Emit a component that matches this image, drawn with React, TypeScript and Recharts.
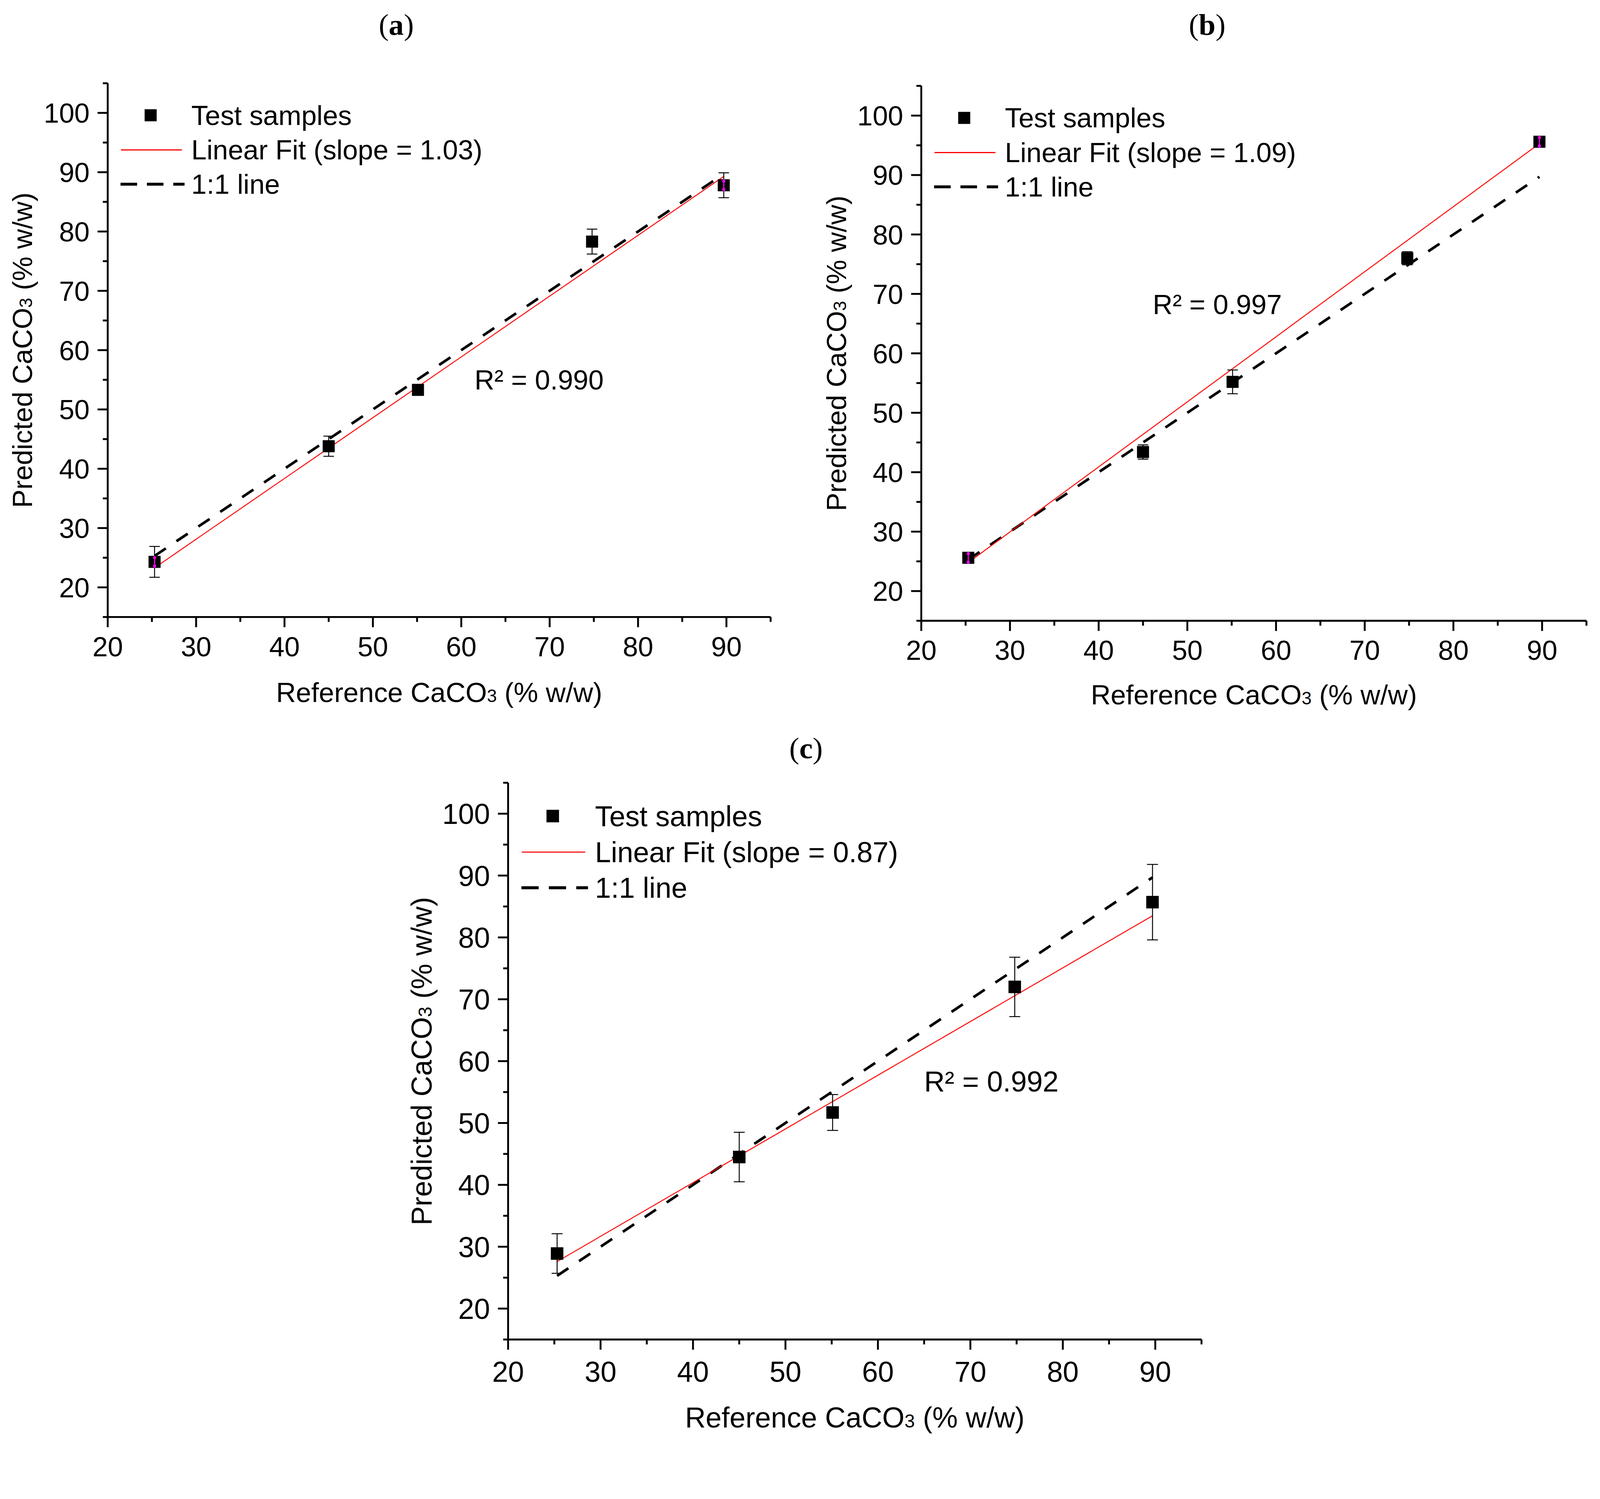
import React from 'react';
import { ComposedChart, Scatter, Line, XAxis, YAxis, ErrorBar, Legend, ReferenceDot } from 'recharts';

const FONT = '"Liberation Sans", Arial, Helvetica, sans-serif';
const SERIF = '"Liberation Serif", "Times New Roman", serif';

// reference CaCO3 of the test samples (same for the three panels)
const refValues = [25.3, 45.0, 55.1, 74.8, 89.7];

// (a)
const predictedA = [24.3, 43.8, 53.3, 78.3, 87.8];
const errorA = [2.6, 1.7, 0.8, 2.1, 2.1];
const magentaA = [true, false, false, false, true];
const fitA = [[25.3, 23.3], [89.7, 89.3]];

// (b)
const predictedB = [25.6, 43.4, 55.2, 76.0, 95.6];
const errorB = [0.8, 1.2, 2.0, 1.1, 0.7];
const magentaB = [true, false, false, false, true];
const fitB = [[25.3, 24.8], [89.7, 95.3]];

// (c)
const predictedC = [28.9, 44.5, 51.7, 72.0, 85.7];
const errorC = [3.2, 4.0, 2.9, 4.8, 6.1];
const magentaC = [false, false, false, false, false];
const fitC = [[25.3, 27.6], [89.7, 83.5]];

const oneToOne = [[25.3, 25.3], [89.7, 89.7]];

const xTicks = [20, 25, 30, 35, 40, 45, 50, 55, 60, 65, 70, 75, 80, 85, 90, 95];
const yTicks = [15, 20, 25, 30, 35, 40, 45, 50, 55, 60, 65, 70, 75, 80, 85, 90, 95, 100, 105];

const panelNames = ['a', 'b', 'c'];
const slopes = ['1.03', '1.09', '0.87'];
const r2Texts = ['R² = 0.990', 'R² = 0.997', 'R² = 0.992'];
const r2Pos = [[61.5, 55.0], [46.1, 68.2], [65.0, 56.7]];

const panels = [
  { left: 0, top: 0, width: 2150, height: 1950, margin: { top: 221, right: 104, bottom: 0, left: 0 }, yW: 286, xH: 312, fs: 73, s: 1, tickLab: 104, xTitle: 226, yTitleX: 60, titleX: 1052, titleY: 25 },
  { left: 2160, top: 0, width: 2088, height: 1950, margin: { top: 228, right: 36, bottom: 0, left: 0 }, yW: 286, xH: 302, fs: 73, s: 1, tickLab: 104, xTitle: 222, yTitleX: 61, titleX: 3205, titleY: 25 },
  { left: 1060, top: 1950, width: 2200, height: 1887, margin: { top: 128, right: 70, bottom: 0, left: 0 }, yW: 289, xH: 281, fs: 76, s: 1.04, tickLab: 112, xTitle: 234, yTitleX: 59, titleX: 2140, titleY: 1946 },
];

const series = [
  { pred: predictedA, err: errorA, mag: magentaA, fit: fitA },
  { pred: predictedB, err: errorB, mag: magentaB, fit: fitB },
  { pred: predictedC, err: errorC, mag: magentaC, fit: fitC },
];

const toPoints = (pairs: number[][]) => pairs.map(([x, y]) => ({ x, y }));

function makeTick(side: string, fs: number, labOffset: number) {
  return (props: any) => {
    const { x, y, payload } = props;
    const v = payload.value;
    const major = v % 10 === 0;
    const len = major ? 27 : 13;
    const line = { stroke: '#000', strokeWidth: 5 };
    if (side === 'bottom') {
      const show = major && v >= 20 && v <= 90;
      return (
        <g>
          <line x1={x} y1={y} x2={x} y2={y + len} {...line} />
          {show && (
            <text x={x} y={y + labOffset} textAnchor="middle" fontSize={fs} fontFamily={FONT} fill="#000">{v}</text>
          )}
        </g>
      );
    }
    if (side === 'top') return <line x1={x} y1={y} x2={x} y2={y + len} {...line} />;
    if (side === 'left') {
      const show = major && v >= 20 && v <= 100;
      return (
        <g>
          <line x1={x - len} y1={y} x2={x} y2={y} {...line} />
          {show && (
            <text x={x - 48} y={y + fs * 0.36} textAnchor="end" fontSize={fs} fontFamily={FONT} fill="#000">{v}</text>
          )}
        </g>
      );
    }
    return <line x1={x - len} y1={y} x2={x} y2={y} {...line} />;
  };
}

function SquareShape(props: any) {
  const { cx, cy, payload, size } = props;
  if (cx == null || cy == null) return null;
  const h = size / 2;
  return (
    <g>
      <rect x={cx - h} y={cy - h} width={size} height={size} fill="#000" />
      {payload.mag && (
        <g>
          <line x1={cx} y1={cy - h} x2={cx} y2={cy + h} stroke="#ff00ff" strokeWidth={3} />
          <circle cx={cx} cy={cy - 11} r={4} fill="#ff00ff" />
          <circle cx={cx} cy={cy + 11} r={4} fill="#ff00ff" />
        </g>
      )}
    </g>
  );
}

function LegendBox({ slope, s, fs }: { slope: string; s: number; fs: number }) {
  const r1 = 85 * s, r2 = 177 * s, r3 = 268 * s;
  const tx = 222 * s;
  const sq = 32 * s;
  const off = fs * 0.35;
  return (
    <svg width={1100 * s} height={320 * s} style={{ display: 'block', overflow: 'visible' }}>
      <rect x={114 * s - sq / 2} y={r1 - sq / 2} width={sq} height={sq} fill="#000" />
      <text x={tx} y={r1 + off} fontSize={fs} fontFamily={FONT} fill="#000">Test samples</text>
      <line x1={35 * s} y1={r2} x2={197 * s} y2={r2} stroke="#ff0000" strokeWidth={3} />
      <text x={tx} y={r2 + off} fontSize={fs} fontFamily={FONT} fill="#000">{`Linear Fit (slope = ${slope})`}</text>
      <line x1={34 * s} y1={r3} x2={204 * s} y2={r3} stroke="#000" strokeWidth={8} strokeDasharray={`${44 * s} ${26 * s}`} />
      <text x={tx} y={r3 + off} fontSize={fs} fontFamily={FONT} fill="#000">1:1 line</text>
    </svg>
  );
}

function Panel({ idx }: { idx: number }) {
  const cfg = panels[idx];
  const ser = series[idx];
  const pts = refValues.map((x, i) => ({ x, y: ser.pred[i], err: ser.err[i], mag: ser.mag[i] }));
  const fs = cfg.fs;
  const plotLeft = cfg.margin.left + cfg.yW;
  const plotTop = cfg.margin.top;

  const xTitle = (props: any) => {
    const vb = props.viewBox;
    return (
      <text x={vb.x + vb.width / 2} y={vb.y + cfg.xTitle} textAnchor="middle" fontSize={fs} fontFamily={FONT} fill="#000">
        <tspan>Reference CaCO</tspan>
        <tspan fontSize={fs * 0.65}>3</tspan>
        <tspan> (% w/w)</tspan>
      </text>
    );
  };
  const yTitle = (props: any) => {
    const vb = props.viewBox;
    const cx = vb.x + cfg.yTitleX;
    const cy = vb.y + vb.height / 2;
    return (
      <text x={cx} y={cy} dy={fs * 0.35} transform={`rotate(-90 ${cx} ${cy})`} textAnchor="middle" fontSize={fs} fontFamily={FONT} fill="#000">
        <tspan>Predicted CaCO</tspan>
        <tspan fontSize={fs * 0.65}>3</tspan>
        <tspan> (% w/w)</tspan>
      </text>
    );
  };
  const r2Label = (props: any) => {
    const vb = props.viewBox;
    return (
      <text x={vb.x} y={vb.y + fs * 0.35} fontSize={fs} fontFamily={FONT} fill="#000">{r2Texts[idx]}</text>
    );
  };

  const axisLine = { stroke: '#000', strokeWidth: 5 };

  return (
    <div style={{ position: 'absolute', left: cfg.left, top: cfg.top, width: cfg.width, height: cfg.height }}>
      <ComposedChart width={cfg.width} height={cfg.height} margin={cfg.margin}>
        <XAxis
          xAxisId={0}
          type="number"
          dataKey="x"
          domain={[20, 95]}
          ticks={xTicks}
          interval={0}
          allowDataOverflow
          height={cfg.xH}
          tickSize={0}
          tickMargin={0}
          tickLine={false}
          axisLine={axisLine}
          tick={makeTick('bottom', fs, cfg.tickLab)}
          label={xTitle}
        />
        <XAxis
          xAxisId="top"
          orientation="top"
          type="number"
          dataKey="x"
          domain={[20, 95]}
          ticks={xTicks}
          interval={0}
          allowDataOverflow
          height={0}
          tickSize={0}
          tickMargin={0}
          tickLine={false}
          axisLine={axisLine}
          tick={makeTick('top', fs, 0)}
        />
        <YAxis
          yAxisId={0}
          type="number"
          dataKey="y"
          domain={[15, 105]}
          ticks={yTicks}
          interval={0}
          allowDataOverflow
          width={cfg.yW}
          tickSize={0}
          tickMargin={0}
          tickLine={false}
          axisLine={axisLine}
          tick={makeTick('left', fs, 0)}
          label={yTitle}
        />
        <YAxis
          yAxisId="right"
          orientation="right"
          type="number"
          dataKey="y"
          domain={[15, 105]}
          ticks={yTicks}
          interval={0}
          allowDataOverflow
          width={0}
          tickSize={0}
          tickMargin={0}
          tickLine={false}
          axisLine={axisLine}
          tick={makeTick('right', fs, 0)}
        />
        <Line
          data={toPoints(oneToOne)}
          dataKey="y"
          type="linear"
          stroke="#000"
          strokeWidth={7}
          strokeDasharray="36 34"
          dot={false}
          activeDot={false}
          isAnimationActive={false}
        />
        <Line
          data={toPoints(ser.fit)}
          dataKey="y"
          type="linear"
          stroke="#ff0000"
          strokeWidth={2.5}
          dot={false}
          activeDot={false}
          isAnimationActive={false}
        />
        <Scatter
          data={pts}
          dataKey="y"
          shape={(p: any) => <SquareShape {...p} size={32 * cfg.s} />}
          isAnimationActive={false}
        >
          <ErrorBar dataKey="err" direction="y" width={14 * cfg.s} stroke="#000" strokeWidth={2.5} isAnimationActive={false} />
        </Scatter>
        <ReferenceDot x={r2Pos[idx][0]} y={r2Pos[idx][1]} r={0} fill="none" stroke="none" label={r2Label} />
        <Legend
          layout="vertical"
          align="center"
          verticalAlign="middle"
          wrapperStyle={{ left: plotLeft, top: plotTop, width: 1100 * cfg.s, height: 320 * cfg.s }}
          content={() => <LegendBox slope={slopes[idx]} s={cfg.s} fs={fs} />}
        />
      </ComposedChart>
      <div
        style={{
          position: 'absolute',
          left: cfg.titleX - cfg.left,
          top: cfg.titleY - cfg.top,
          transform: 'translateX(-50%)',
          fontFamily: SERIF,
          fontSize: 80,
          lineHeight: '80px',
          whiteSpace: 'nowrap',
          color: '#000',
        }}
      >
        (<b>{panelNames[idx]}</b>)
      </div>
    </div>
  );
}

export default function App() {
  // the layout is written in picture pixels; fit it to the real viewport width
  const k = typeof window !== 'undefined' && window.innerWidth > 0 ? Math.min(1, window.innerWidth / 4248) : 1;
  return (
    <div
      style={{
        position: 'absolute',
        left: 0,
        top: 0,
        width: 4248,
        height: 3837,
        background: '#fff',
        transform: `scale(${k})`,
        transformOrigin: '0 0',
      }}
    >
      <Panel idx={0} />
      <Panel idx={1} />
      <Panel idx={2} />
    </div>
  );
}
